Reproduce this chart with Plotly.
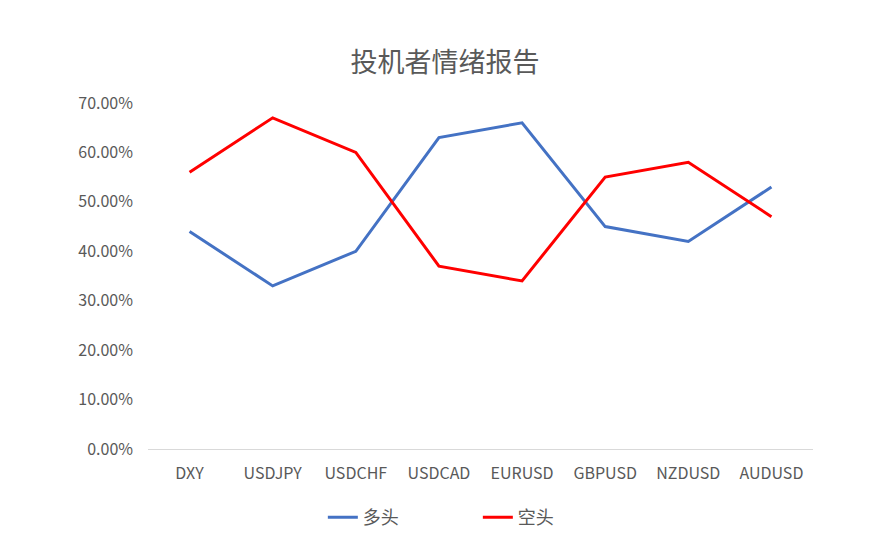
import plotly.graph_objects as go

# currency pairs on the x axis
pairs = ['DXY', 'USDJPY', 'USDCHF', 'USDCAD', 'EURUSD', 'GBPUSD', 'NZDUSD', 'AUDUSD']
# share of longs / shorts (fraction)
long_pct = [0.44, 0.33, 0.40, 0.63, 0.66, 0.45, 0.42, 0.53]
short_pct = [0.56, 0.67, 0.60, 0.37, 0.34, 0.55, 0.58, 0.47]
y_ticks = [0, 0.1, 0.2, 0.3, 0.4, 0.5, 0.6, 0.7]

font_name = 'Noto Sans CJK SC'
grey = '#595959'

fig = go.Figure()
fig.add_trace(go.Scatter(x=pairs, y=long_pct, mode='lines', name='多头',
                         line=dict(color='#4472C4', width=3)))
fig.add_trace(go.Scatter(x=pairs, y=short_pct, mode='lines', name='空头',
                         line=dict(color='#FF0000', width=3)))

fig.update_xaxes(range=[-0.5, 7.5], showgrid=False, showline=False, zeroline=False,
                 ticks='', tickfont=dict(size=16, color=grey), ticklabelstandoff=13)
fig.update_yaxes(range=[0, 0.7], tickvals=y_ticks, tickformat='.2%', showgrid=False,
                 zeroline=True, zerolinecolor='#D9D9D9', zerolinewidth=1,
                 showline=False, ticks='', tickfont=dict(size=16, color=grey),
                 ticklabelstandoff=14)
# page body has an 8px margin, so offsets are shifted by that
fig.update_layout(
    width=874, height=544,
    margin=dict(l=140, r=69, t=95, b=103),
    plot_bgcolor='white', paper_bgcolor='white',
    font=dict(family=font_name, color=grey),
    title=dict(text='投机者情绪报告', x=0.5, xanchor='center', y=0.9, yanchor='middle',
               font=dict(size=27, color=grey)),
    legend=dict(orientation='h', x=0.496, xanchor='center', y=-0.145, yanchor='top',
                font=dict(size=18, color=grey), entrywidth=110),
    showlegend=True,
)

fig.write_html('out.html')
